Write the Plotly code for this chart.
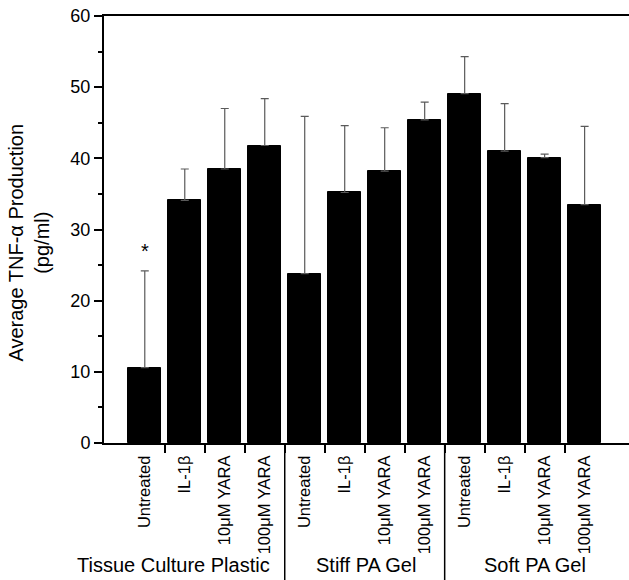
import plotly.graph_objects as go

categories = ["Untreated", "IL-1β", "10μM YARA", "100μM YARA",
              "Untreated", "IL-1β", "10μM YARA", "100μM YARA",
              "Untreated", "IL-1β", "10μM YARA", "100μM YARA"]
means = [10.6, 34.1, 38.5, 41.8, 23.8, 35.2, 38.2, 45.4, 49.1, 41.0, 40.1, 33.5]
err_upper = [13.6, 4.4, 8.5, 6.6, 22.1, 9.4, 6.1, 2.5, 5.2, 6.7, 0.5, 11.0]
groups = ["Tissue Culture Plastic", "Stiff PA Gel", "Soft PA Gel"]
significance = ["*", "", "", "", "", "", "", "", "", "", "", ""]

FONT = "Arial, Liberation Sans, sans-serif"
xs = list(range(len(categories)))
boundaries = [i + 0.5 for i in range(len(categories) - 1)]
group_size = 4
group_seps = [g * group_size - 0.5 for g in range(1, len(groups))]
group_label_x = [0.71, 5.53, 9.75]
xrange = [-1.02, 12.11]

fig = go.Figure()
fig.add_trace(go.Bar(
    x=xs, y=means, width=0.83,
    marker=dict(color="black", line=dict(color="black", width=1)),
    error_y=dict(type="data", symmetric=False, array=err_upper,
                 arrayminus=[0] * len(means), color="#5a5a5a",
                 thickness=1.2, width=4),
    showlegend=False,
))
# invisible trace to host the boundary tick axis
fig.add_trace(go.Scatter(x=[xrange[0]], y=[0], xaxis="x2", mode="markers",
                         marker=dict(opacity=0), showlegend=False, hoverinfo="skip"))

for i, s in enumerate(significance):
    if s:
        fig.add_annotation(x=xs[i], y=means[i] + err_upper[i] + 2.8, text=s,
                           showarrow=False, font=dict(family=FONT, size=20, color="black"))

for gx, g in zip(group_label_x, groups):
    fig.add_annotation(x=gx, xref="x", y=-0.286, yref="paper", text=g,
                       showarrow=False, font=dict(family=FONT, size=20, color="black"),
                       xanchor="center", yanchor="middle")

for s in group_seps:
    fig.add_shape(type="line", xref="x", yref="paper", x0=s, x1=s, y0=0, y1=-0.33,
                  line=dict(color="black", width=1.5))

fig.add_annotation(x=-0.192, xref="paper", y=0.47, yref="paper",
                   text="Average TNF-α Production<br>(pg/ml)", textangle=-90,
                   showarrow=False, font=dict(family=FONT, size=20, color="black"),
                   align="center")

fig.update_layout(
    width=629, height=580,
    margin=dict(l=104, r=0, t=16, b=137),
    plot_bgcolor="white", paper_bgcolor="white",
    font=dict(family=FONT, color="black"),
    bargap=0,
    xaxis=dict(range=xrange, tickvals=xs, ticktext=categories, tickangle=-90,
               ticks="outside", ticklen=4, tickcolor="rgba(0,0,0,0)",
               tickfont=dict(family=FONT, size=16.5, color="black"),
               showline=True, linecolor="black", linewidth=2, mirror=True,
               showgrid=False, zeroline=False),
    xaxis2=dict(range=xrange, overlaying="x", side="bottom", anchor="y",
                tickvals=boundaries, ticks="outside", ticklen=9, tickwidth=1.5,
                tickcolor="black", showticklabels=False, showline=False,
                showgrid=False, zeroline=False),
    yaxis=dict(range=[0, 60], dtick=10, ticks="outside", ticklen=8, tickwidth=1.5,
               tickcolor="black",
               minor=dict(dtick=5, ticks="outside", ticklen=4, tickwidth=1.5, tickcolor="black"),
               tickfont=dict(family=FONT, size=18, color="black"),
               showline=True, linecolor="black", linewidth=2,
               showgrid=False, zeroline=False),
)

fig.write_html("out.html")
